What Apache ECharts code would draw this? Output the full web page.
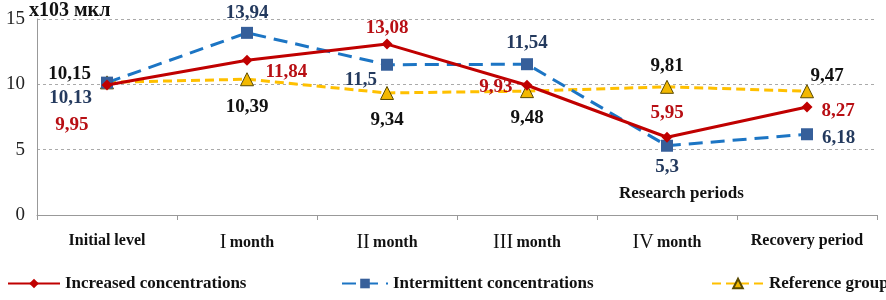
<!DOCTYPE html>
<html>
<head>
<meta charset="utf-8">
<script src="https://cdn.jsdelivr.net/npm/echarts@6/dist/echarts.min.js"></script>
<style>
  html, body { margin: 0; padding: 0; background: #fff; }
  #chart { width: 886px; height: 300px; }
</style>
</head>
<body>
<div id="chart"></div>
<script>
var periods = ['Initial level', 'I month', 'II month', 'III month', 'IV month', 'Recovery period'];
var increased = [9.95, 11.84, 13.08, 9.93, 5.95, 8.27];
var intermittent = [10.13, 13.94, 11.5, 11.54, 5.3, 6.18];
var reference = [10.15, 10.39, 9.34, 9.48, 9.81, 9.47];
var yTicks = [0, 5, 10, 15];

// where each value label sits (position, offset)
var incLabelPos = [['left', [-8, 40]], ['right', [8, 12]], ['top', [0, 4]], ['left', [-4, 2]], ['top', [0, -4]], ['right', [4, 4]]];
var intLabelPos = [['left', [-4, 15]], ['top', [0, 1]], ['left', [1, 15]], ['top', [0, -1]], ['bottom', [0, 1]], ['right', [4, 4]]];
var refLabelPos = [['left', [-4, -8]], ['bottom', [0, 6]], ['bottom', [0, 6]], ['bottom', [0, 5]], ['top', [0, 1]], ['top', [20, 6]]];

var serif = '"Liberation Serif", "DejaVu Serif", serif';

function fmt(v) { return String(v).replace('.', ','); }

function withLabels(values, pos, color) {
  return values.map(function (v, i) {
    return {
      value: v,
      label: {
        show: true,
        position: pos[i][0],
        offset: pos[i][1],
        color: color,
        fontFamily: serif,
        fontWeight: 'bold',
        fontSize: 19,
        formatter: function (p) { return fmt(p.value); }
      }
    };
  });
}

var chart = echarts.init(document.getElementById('chart'));

var legendText = { fontFamily: serif, fontWeight: 'bold', fontSize: 17, color: '#111' };

var option = {
  animation: false,
  grid: { left: 37, right: 9, top: 19, bottom: 85 },
  legend: [
    { data: ['Increased concentrations'], left: 2, top: 270, itemWidth: 52, itemHeight: 12, itemGap: 10, textStyle: legendText },
    { data: ['Intermittent concentrations'], left: 336, top: 270, itemWidth: 46, itemHeight: 12, textStyle: legendText },
    { data: ['Reference group'], left: 706, top: 270, itemWidth: 52, itemHeight: 12, textStyle: legendText }
  ],
  graphic: [
    {
      type: 'text', left: 29, top: 1,
      style: { text: 'x103 мкл', font: 'bold 20px ' + serif, fill: '#111' }
    },
    {
      type: 'text', left: 619, top: 185,
      style: { text: 'Research periods', font: 'bold 17px ' + serif, fill: '#111' }
    }
  ],
  xAxis: {
    type: 'category',
    data: periods,
    boundaryGap: true,
    axisLine: { lineStyle: { color: '#999', width: 1 } },
    axisTick: { show: true, length: 5, lineStyle: { color: '#999' } },
    axisLabel: {
      margin: 18,
      interval: 0,
      formatter: function (v) {
        var m = v.match(/^([IV]+) (month)$/);
        if (m) return '{r|' + m[1] + '} {b|' + m[2] + '}';
        return '{b|' + v + '}';
      },
      rich: {
        r: { fontFamily: serif, fontSize: 20, color: '#111' },
        b: { fontFamily: serif, fontSize: 16, fontWeight: 'bold', color: '#111' }
      }
    }
  },
  yAxis: {
    type: 'value',
    min: 0,
    max: 15,
    interval: 5,
    axisLine: { show: true, lineStyle: { color: '#999' } },
    axisTick: { show: false },
    axisLabel: {
      margin: 12,
      fontFamily: serif, fontSize: 19, color: '#222',
      formatter: function (v) { return yTicks.indexOf(v) >= 0 ? String(v) : ''; }
    },
    splitLine: { lineStyle: { color: '#aaa', type: [3, 3] } }
  },
  series: [
    {
      name: 'Reference group',
      type: 'line',
      data: withLabels(reference, refLabelPos, '#111'),
      symbol: 'triangle',
      symbolSize: 13,
      itemStyle: { color: '#f2b800', borderColor: '#5a4a00', borderWidth: 1 },
      lineStyle: { color: '#ffc000', width: 3, type: [9, 5] },
      z: 2
    },
    {
      name: 'Intermittent concentrations',
      type: 'line',
      data: withLabels(intermittent, intLabelPos, '#243a5e'),
      symbol: 'rect',
      symbolSize: 12,
      itemStyle: { color: '#365f9a' },
      lineStyle: { color: '#1c75c4', width: 3, type: [14, 8] },
      z: 3
    },
    {
      name: 'Increased concentrations',
      type: 'line',
      data: withLabels(increased, incLabelPos, '#b80f14'),
      symbol: 'diamond',
      symbolSize: 11,
      itemStyle: { color: '#c00000' },
      lineStyle: { color: '#c00000', width: 3 },
      z: 4
    }
  ]
};

chart.setOption(option);
</script>
</body>
</html>
